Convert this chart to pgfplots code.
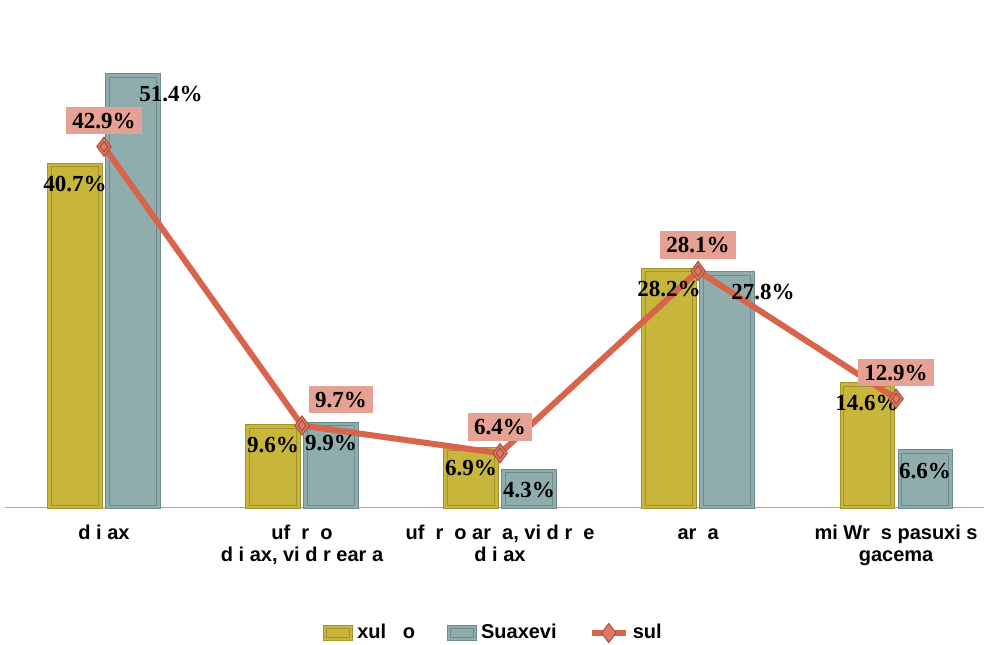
\documentclass[border=0pt]{standalone}
\usepackage{pgfplots}
\pgfplotsset{compat=1.18}
\usepackage{fontspec}
\setmainfont{Liberation Sans}
\newfontfamily\lblfont{Liberation Serif}

\definecolor{goldfill}{HTML}{C8B53B}
\definecolor{goldline}{HTML}{A3932C}
\definecolor{tealfill}{HTML}{8FADAD}
\definecolor{tealline}{HTML}{6C8B8B}
\definecolor{linec}{HTML}{D8644B}
\definecolor{markc}{HTML}{DC7A65}
\definecolor{boxc}{HTML}{E5A193}

\begin{document}
\begin{tikzpicture}
\begin{axis}[
  at={(0,0)}, anchor=south west,
  scale only axis,
  width=489.5pt, height=252pt,
  xmin=-0.5, xmax=4.444,
  ymin=0, ymax=60,
  axis y line=none,
  axis x line*=bottom,
  x axis line style={draw=black!35, -},
  ytick={10,20,30,40,50},
  ymajorgrids,
  grid style={draw=black!15, line width=0.6pt},
  xtick={0,1,2,3,4},
  major tick length=0pt,
  xticklabels={{\strut d i ax},{\strut uf\ \ r\ \ o\\d i ax, vi d r ear a},{\strut uf\ \ r\ \ o ar\ \ a, vi d r\ \ e\\d i ax},{\strut ar\ \ a},{\strut mi Wr\ \ s pasuxi s\\gacema}},
  x tick label style={font=\bfseries\fontsize{10}{11}\selectfont, align=center, anchor=north, yshift=-5pt},
  clip=false,
  legend columns=3,
  legend style={at={(0.5,-0.25)}, anchor=center, draw=none, fill=none,
    font=\bfseries\fontsize{10}{12}\selectfont,
    /tikz/every even column/.append style={column sep=14pt}},
  /pgf/number format/assume math mode=true,
]
% gold bars
\addplot[ybar, bar width=25.3pt, bar shift=-14.5pt,
  draw=goldline, line width=0.5pt, double=goldfill, double distance=1.3pt, fill=goldfill,
  legend image code/.code={\draw[draw=goldline, line width=0.5pt, double=goldfill, double distance=1pt, fill=goldfill] (0pt,-3pt) rectangle (13pt,3pt);},
  visualization depends on={\thisrow{dx} \as \dx},
  nodes near coords={\pgfmathprintnumber[fixed,fixed zerofill,precision=1]{\pgfplotspointmeta}\%},
  nodes near coords style={font=\lblfont\bfseries\fontsize{11.5}{12}\selectfont, text=black, anchor=center, yshift=-9.5pt, xshift={\dx pt-14.5pt}},
] table[x=x, y=y] {
x y dx
0 40.7 0
1 9.6 0
2 6.9 0
3 28.2 0
4 14.6 0
};
\addlegendentry{xul\ \ \ o}
% teal bars
\addplot[ybar, bar width=25.3pt, bar shift=14.5pt,
  draw=tealline, line width=0.5pt, double=tealfill, double distance=1.3pt, fill=tealfill,
  legend image code/.code={\draw[draw=tealline, line width=0.5pt, double=tealfill, double distance=1pt, fill=tealfill] (0pt,-3pt) rectangle (13pt,3pt);},
  visualization depends on={\thisrow{dx} \as \dx},
  nodes near coords={\pgfmathprintnumber[fixed,fixed zerofill,precision=1]{\pgfplotspointmeta}\%},
  nodes near coords style={font=\lblfont\bfseries\fontsize{11.5}{12}\selectfont, text=black, anchor=center, yshift=-9.5pt, xshift={\dx pt+14.5pt}},
] table[x=x, y=y] {
x y dx
0 51.4 19
1 9.9 0
2 4.3 0
3 27.8 18
4 6.6 0
};
\addlegendentry{Suaxevi}
% line
\addplot[color=linec, line width=3pt, mark=diamond*, mark size=4.8pt,
  mark options={fill=markc, draw=linec!80!black, line width=0.5pt},
  visualization depends on={\thisrow{dx} \as \dx},
  nodes near coords={\pgfmathprintnumber[fixed,fixed zerofill,precision=1]{\pgfplotspointmeta}\%},
  nodes near coords style={font=\lblfont\bfseries\fontsize{11.5}{12}\selectfont, text=black, fill=boxc,
    inner xsep=3pt, inner ysep=3pt, anchor=center, yshift=13pt, xshift=\dx pt},
] table[x=x, y=y] {
x y dx
0 42.9 0
1 9.7 19.5
2 6.4 0
3 28.1 0
4 12.9 0
};
\addlegendentry{sul}
\addplot[only marks, mark=diamond, mark size=2.6pt, mark options={draw=linec!70!black, line width=0.4pt}, forget plot]
  table[x=x, y=y] {
x y
0 42.9
1 9.7
2 6.4
3 28.1
4 12.9
};
\end{axis}
\pgfresetboundingbox
\path (-2.5pt,-68.5pt) rectangle (489.5pt,253.5pt);
\end{tikzpicture}
\end{document}
